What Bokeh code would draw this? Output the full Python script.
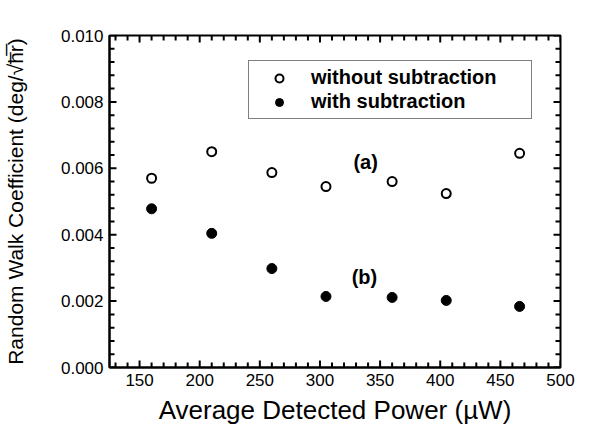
from bokeh.plotting import figure
from bokeh.models import (Range1d, SingleIntervalTicker, Legend, LegendItem,
                          PrintfTickFormatter, ColumnDataSource)
from bokeh.core.properties import value
from bokeh.embed import file_html
from bokeh.resources import INLINE

# ---- data ----
power = [160, 210, 260, 305, 360, 405, 466]
without_sub = [0.00570, 0.00650, 0.00587, 0.00545, 0.00560, 0.00524, 0.00645]
with_sub = [0.00478, 0.00404, 0.00298, 0.00214, 0.00211, 0.00202, 0.00184]
note_text = ["(a)", "(b)"]
note_x = [338, 337]
note_y = [0.00620, 0.00274]
x_title = "Average Detected Power (\u00b5W)"
y_title = "Random Walk Coefficient (deg/\u221ah\u0305r\u0305)"

FONT = "Liberation Sans"
X0, X1, Y0, Y1 = 125.0, 500.0, 0.0, 0.010
FW, FH = 452, 332  # frame size in px

p = figure(width=583, height=431, output_backend="svg", toolbar_location=None,
           x_range=Range1d(X0, X1), y_range=Range1d(Y0, Y1),
           min_border_left=108, min_border_right=23, min_border_top=35, min_border_bottom=64,
           background_fill_color="white", border_fill_color="white")
p.grid.visible = False
p.outline_line_color = "black"
p.outline_line_width = 2

p.xaxis.ticker = SingleIntervalTicker(interval=50, num_minor_ticks=5)
p.yaxis.ticker = SingleIntervalTicker(interval=0.002, num_minor_ticks=5)
p.yaxis.formatter = PrintfTickFormatter(format="%.3f")
for ax in (p.xaxis[0], p.yaxis[0]):
    ax.axis_line_width = 2
    ax.axis_line_color = "black"
    ax.major_tick_line_color = None
    ax.minor_tick_line_color = None
    ax.major_tick_in = 0
    ax.major_tick_out = 0
    ax.minor_tick_in = 0
    ax.minor_tick_out = 0
    ax.major_label_text_font = FONT
    ax.major_label_text_font_size = "17px"
    ax.major_label_text_color = "black"
    ax.axis_label_text_font = FONT
    ax.axis_label_text_font_style = "normal"
    ax.axis_label_text_color = "black"
p.xaxis.major_label_standoff = 6
p.yaxis.major_label_standoff = 6
p.xaxis.axis_label = x_title
p.xaxis.axis_label_text_font_size = "26px"
p.xaxis.axis_label_standoff = 6
p.yaxis.axis_label = y_title
p.yaxis.axis_label_text_font_size = "21px"
p.yaxis.axis_label_standoff = 31

# inward ticks on all four sides, built from the tick intervals
dx = (X1 - X0) / FW
dy = (Y1 - Y0) / FH
MAJ, MIN = 7, 5
tx0, ty0, tx1, ty1 = [], [], [], []
for i in range(13, 51):
    xv = i * 10.0
    L = MAJ if i % 5 == 0 else MIN
    tx0 += [xv, xv]; tx1 += [xv, xv]
    ty0 += [Y0, Y1]; ty1 += [Y0 + L * dy, Y1 - L * dy]
for j in range(0, 26):
    yv = j * 0.0004
    L = MAJ if j % 5 == 0 else MIN
    ty0 += [yv, yv]; ty1 += [yv, yv]
    tx0 += [X0, X1]; tx1 += [X0 + L * dx, X1 - L * dx]
ticks = ColumnDataSource(dict(x0=tx0, y0=ty0, x1=tx1, y1=ty1))
p.segment(x0="x0", y0="y0", x1="x1", y1="y1", source=ticks, line_color="black", line_width=2)

r1 = p.scatter(power, without_sub, size=9, marker="circle", fill_color="white",
               line_color="black", line_width=2)
r2 = p.scatter(power, with_sub, size=10, marker="circle", fill_color="black",
               line_color="black", line_width=1)

src = ColumnDataSource(dict(x=note_x, y=note_y, t=note_text))
p.text(x="x", y="y", text="t", source=src, text_font=value(FONT), text_font_size="20px",
       text_font_style="bold", text_align="center", text_baseline="middle", text_color="black")

legend = Legend(items=[LegendItem(label="without subtraction", renderers=[r1]),
                       LegendItem(label="with subtraction", renderers=[r2])],
                location=(139, 248), padding=5, margin=0, spacing=1,
                glyph_width=50, glyph_height=20, label_height=20, label_width=215,
                label_standoff=7, label_text_font=FONT, label_text_font_size="20px",
                label_text_font_style="bold", label_text_color="black",
                border_line_color="black", border_line_width=1,
                background_fill_color="white", background_fill_alpha=1)
p.add_layout(legend, "center")

open("out.html", "w").write(file_html(p, INLINE))
